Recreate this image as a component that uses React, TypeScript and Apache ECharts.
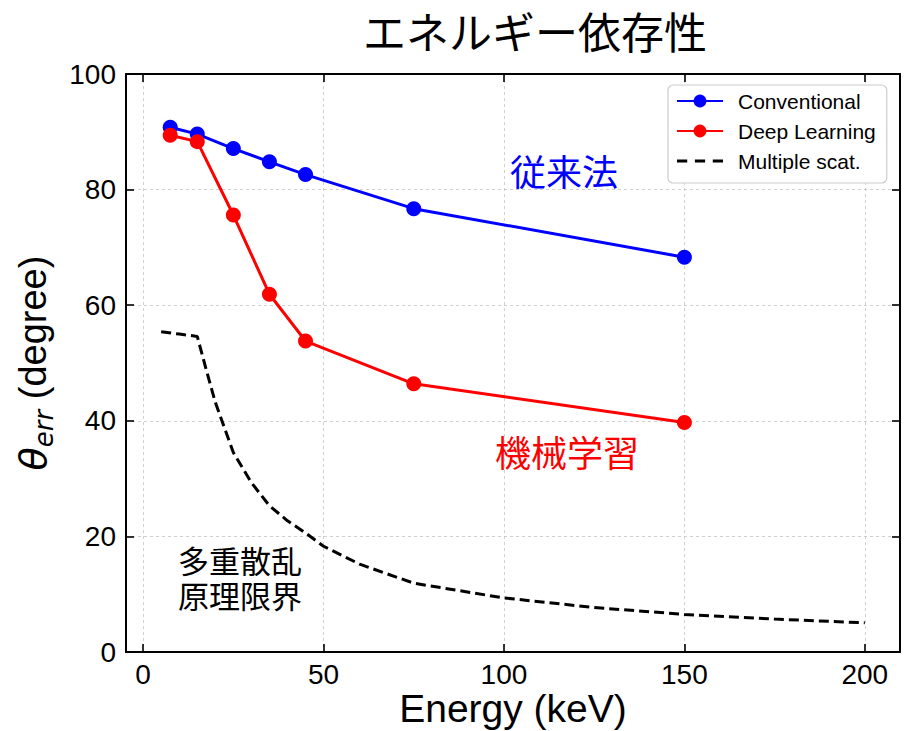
import React, { useEffect, useRef } from "react";
import * as echarts from "echarts";

// Beam energy (keV) for the two reconstruction methods
const energies = [7.5, 15, 25, 35, 45, 75, 150];
// Angular error (degree)
const conventional = [90.8, 89.6, 87.1, 84.8, 82.6, 76.7, 68.3];
const deepLearning = [89.4, 88.3, 75.6, 61.9, 53.8, 46.4, 39.7];

// Multiple-scattering limit curve
const msEnergies = [5, 10, 15, 17.5, 20, 25, 30, 35, 40, 45, 50, 60, 75, 100, 125, 150, 175, 200];
const msLimit = [55.4, 55.0, 54.6, 48.8, 43.2, 34.5, 29.3, 25.3, 22.7, 20.6, 18.3, 15.2, 11.9, 9.35, 7.7, 6.5, 5.7, 5.05];

const xTicks = [0, 50, 100, 150, 200];
const xMin = -4.75;
const xMax = 209.75;

const SANS = "'Liberation Sans', Arial, sans-serif";
const CJK = "'Noto Sans CJK JP', sans-serif";
const MATH = "'DejaVu Sans', sans-serif";

const pairs = (xs: number[], ys: number[]) => xs.map((x, i) => [x, ys[i]]);

const gridLine = { show: true, lineStyle: { color: "#c4c4c4", type: [3, 3], width: 0.8 } };
const frameLine = { show: true, onZero: false, lineStyle: { color: "#000", width: 2 } };
const tickIn = { show: true, inside: true, length: 8, lineStyle: { color: "#000", width: 1.6 } };

export default function App() {
  const ref = useRef<HTMLDivElement>(null);

  useEffect(() => {
    const chart = echarts.init(ref.current!, null, { renderer: "svg" });
    chart.setOption({
      animation: false,
      backgroundColor: "#fff",
      grid: { left: 126, top: 74, right: 7, bottom: 79, containLabel: false, outerBoundsMode: "none" },
      xAxis: [
        {
          type: "value",
          position: "bottom",
          min: xMin,
          max: xMax,
          axisLine: frameLine,
          axisTick: { ...tickIn, customValues: xTicks },
          axisLabel: { customValues: xTicks, fontSize: 28, color: "#000", fontFamily: SANS, margin: 8 },
          splitLine: gridLine,
          name: "Energy (keV)",
          nameLocation: "middle",
          nameGap: 36,
          nameMoveOverlap: false,
          nameTextStyle: { fontSize: 39, lineHeight: 40, color: "#000", fontFamily: SANS },
        },
        {
          type: "value",
          position: "top",
          min: xMin,
          max: xMax,
          axisLine: frameLine,
          axisTick: { ...tickIn, customValues: xTicks },
          axisLabel: { show: false, customValues: xTicks },
          splitLine: { show: false },
        },
      ],
      yAxis: [
        {
          type: "value",
          position: "left",
          min: 0,
          max: 100,
          interval: 20,
          axisLine: frameLine,
          axisTick: tickIn,
          axisLabel: { fontSize: 28, color: "#000", fontFamily: SANS, margin: 10 },
          splitLine: gridLine,
          name: "{t|θ}{s|err}{n| (degree)}",
          nameLocation: "middle",
          nameGap: 68,
          nameMoveOverlap: false,
          nameTextStyle: {
            color: "#000",
            rich: {
              t: { fontSize: 38, fontStyle: "italic", fontFamily: MATH, color: "#000", lineHeight: 50 },
              s: { fontSize: 26, fontStyle: "italic", fontFamily: MATH, color: "#000", padding: [22, 0, 0, 0] },
              n: { fontSize: 38, fontFamily: SANS, color: "#000" },
            },
          },
        },
        {
          type: "value",
          position: "right",
          min: 0,
          max: 100,
          interval: 20,
          axisLine: frameLine,
          axisTick: tickIn,
          axisLabel: { show: false },
          splitLine: { show: false },
        },
      ],
      legend: {
        orient: "vertical",
        left: 668,
        top: 85,
        itemWidth: 46,
        itemHeight: 16,
        itemGap: 0,
        padding: [1, 11, 7, 8],
        backgroundColor: "#fff",
        borderColor: "#cccccc",
        borderWidth: 1.2,
        borderRadius: 5,
        textStyle: { fontSize: 21, color: "#000", fontFamily: SANS, lineHeight: 30, padding: [0, 0, 0, 10] },
        data: [
          { name: "Conventional" },
          { name: "Deep Learning" },
          { name: "Multiple scat.", icon: "path://M0,0h10v3h-10zM17.5,0h10v3h-10zM35,0h10v3h-10z" },
        ],
      },
      series: [
        {
          name: "Conventional",
          type: "line",
          data: pairs(energies, conventional),
          symbol: "circle",
          symbolSize: 15,
          color: "#0000ff",
          lineStyle: { width: 3, color: "#0000ff" },
          itemStyle: { color: "#0000ff" },
        },
        {
          name: "Deep Learning",
          type: "line",
          data: pairs(energies, deepLearning),
          symbol: "circle",
          symbolSize: 15,
          color: "#ff0000",
          lineStyle: { width: 3, color: "#ff0000" },
          itemStyle: { color: "#ff0000" },
        },
        {
          name: "Multiple scat.",
          type: "line",
          data: pairs(msEnergies, msLimit),
          symbol: "none",
          color: "#000",
          lineStyle: { width: 3, color: "#000", type: [10, 5] },
          itemStyle: { color: "#000" },
        },
      ],
      graphic: [
        {
          type: "text",
          x: 535,
          y: 30,
          style: { text: "エネルギー依存性", align: "center", verticalAlign: "middle", fontSize: 43, fontFamily: CJK, fill: "#000" },
        },
        {
          type: "text",
          x: 564,
          y: 170,
          style: { text: "従来法", align: "center", verticalAlign: "middle", fontSize: 36, fontFamily: CJK, fill: "#0000ff" },
        },
        {
          type: "text",
          x: 567,
          y: 451,
          style: { text: "機械学習", align: "center", verticalAlign: "middle", fontSize: 36, fontFamily: CJK, fill: "#ff0000" },
        },
        {
          type: "text",
          x: 178,
          y: 559,
          style: { text: "多重散乱", align: "left", verticalAlign: "middle", fontSize: 31, lineHeight: 33, fontFamily: CJK, fill: "#000" },
        },
        {
          type: "text",
          x: 178,
          y: 594,
          style: { text: "原理限界", align: "left", verticalAlign: "middle", fontSize: 31, lineHeight: 33, fontFamily: CJK, fill: "#000" },
        },
      ],
    });
    return () => chart.dispose();
  }, []);

  return (
    <div
      ref={ref}
      style={{ position: "fixed", left: 0, top: 0, width: 907, height: 731, background: "#fff" }}
    />
  );
}
